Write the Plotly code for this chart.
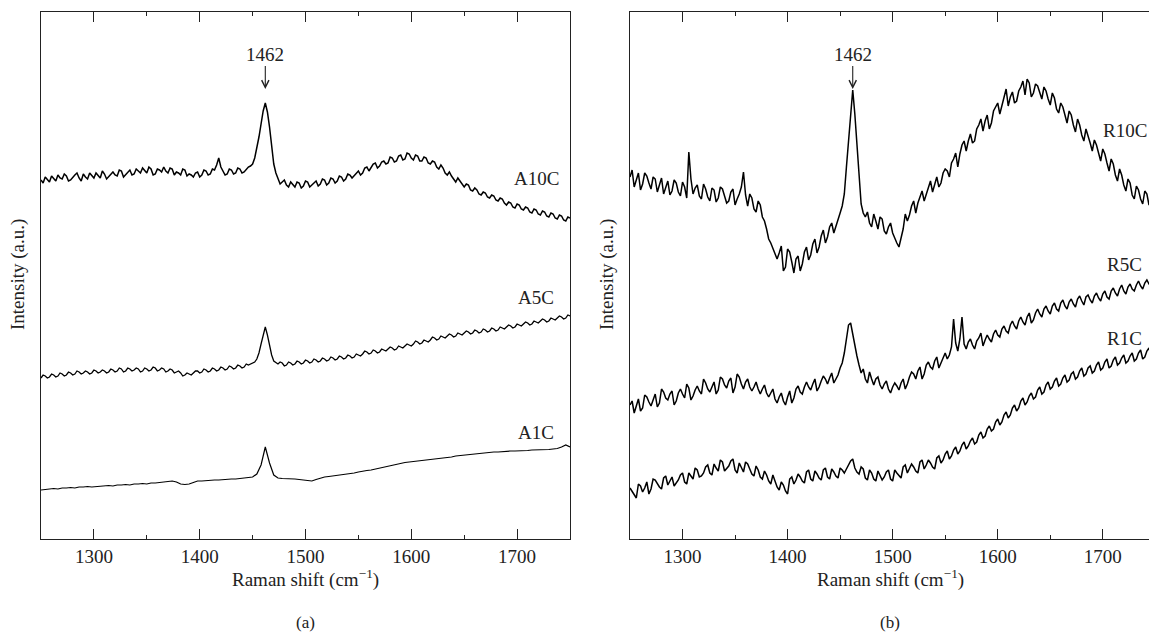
import plotly.graph_objects as go

# Raman shift sample positions (cm^-1): main grid and the in-between samples
raman_shift = list(range(1250, 1751, 4))
raman_shift_half = list(range(1252, 1750, 4))

# Panel (a) intensities (a.u., offset stacked)
A10C = [359,362,357,361,364,360,363,359,364,361,365,360,363,366,361,365,362,367,363,368,
        364,369,365,368,371,366,370,365,369,372,366,370,367,364,369,365,362,367,364,368,
        365,369,381,368,365,369,366,370,367,372,375,390,415,436,412,375,361,357,354,357,
        352,356,353,357,354,358,355,359,356,360,358,362,360,364,363,368,366,372,371,376,
        373,378,376,381,378,384,380,385,379,383,378,381,375,377,370,371,364,363,357,358,
        352,354,348,349,344,346,341,343,338,340,334,336,331,334,329,331,326,329,324,327,
        322,325,320,323,318,321]
A10C_half = [356,360,363,358,361,365,358,362,366,358,362,366,361,363,368,360,365,364,369,362,
             366,364,370,366,368,372,364,370,367,368,371,364,366,370,363,364,366,362,369,364,
             370,374,372,364,370,365,371,366,370,373,381,402,428,427,392,366,355,359,352,354,
             357,351,358,352,357,353,360,354,361,356,363,358,365,361,366,364,371,368,375,371,
             377,375,382,377,383,379,386,381,384,378,382,376,378,372,374,366,367,360,361,354,
             355,349,351,345,347,342,344,339,341,336,337,332,335,330,332,327,330,325,328,323,
             326,321,324,319,322]
A5C = [161,163,162,164,163,165,164,166,165,167,166,167,166,168,167,168,167,169,168,170,
       168,170,169,170,168,170,169,171,169,170,168,169,167,166,164,165,166,168,167,169,
       168,170,169,171,170,172,171,173,172,174,176,180,195,212,193,178,175,176,174,176,
       175,177,176,178,177,179,178,180,179,181,180,182,181,183,182,184,185,187,186,188,
       187,189,190,191,190,192,193,194,195,197,196,198,199,201,200,202,203,204,203,205,
       206,207,206,208,207,209,208,210,209,211,212,213,212,214,215,216,215,217,218,219,
       218,220,221,222,221,223]
A5C_half = [164,161,165,162,166,163,167,164,168,165,168,165,169,166,169,166,170,167,171,167,
            171,168,171,167,171,168,172,168,171,167,170,166,168,163,166,164,168,166,170,167,
            171,168,172,169,173,170,174,171,175,175,177,186,205,204,184,176,177,173,177,174,
            178,175,179,176,180,177,181,178,182,179,183,180,184,181,185,183,188,185,189,186,
            190,188,192,189,193,191,195,193,198,195,199,197,202,199,203,201,205,202,206,204,
            208,205,209,206,210,207,211,208,212,210,214,211,215,213,217,214,218,216,220,217,
            221,219,223,220,224]
A1C = [49,49.5,50,50.5,50,51,51,51.5,51,52,52,52.5,52,52.5,53,53,53.5,53,54,54,
       54.5,54,55,55,55.5,55,56,56,56.5,57,57.5,58,57,55,54.5,55,56.5,58,58,58.5,
       58.5,59,59,59.5,59.5,60,60,60.5,61,61,62,65,74,92,76,64,61,60.5,60.5,60,
       60,59.5,59,58,58,59.5,61,62,62.5,63,63.5,64,64.5,65.5,66,67,68,68.5,69,70,
       71,72,73,74,75,76,76.5,77,77.5,78,78.5,79,79,79.5,80,81,81.5,82,83,83.5,
       84,84.5,85,85.5,86,86,86.5,87,87,87.5,87.5,88,88,88,88.5,88.5,89,89,89,89.5,
       89.5,90,90.5,92,94,92]

# Panel (b) intensities
R10C = [362,352,366,355,363,350,360,354,345,358,348,356,343,352,387,345,354,340,350,338,
        349,341,350,336,347,334,345,367,333,341,327,334,318,300,290,280,293,272,287,266,
        283,275,292,284,300,292,309,302,316,312,326,345,400,449,392,335,322,316,325,310,
        320,305,316,300,292,310,318,333,326,343,338,352,347,362,356,370,362,380,372,394,
        388,405,398,414,408,424,416,432,425,440,433,447,438,452,444,456,446,453,440,448,
        434,441,426,432,416,424,407,414,398,404,388,394,378,385,368,375,358,364,348,356,
        340,349,335,345,338,344]
R10C_half = [369,360,349,366,356,362,347,361,352,344,359,347,357,341,360,351,343,355,342,351,
             337,352,343,338,350,340,352,344,345,330,338,322,310,296,285,286,268,290,277,280,
             268,287,279,295,286,303,296,312,306,320,333,372,430,425,360,326,327,312,318,322,
             308,312,306,296,302,325,324,338,336,348,344,358,355,352,366,368,376,386,385,398,
             398,396,410,420,418,410,428,436,433,450,442,436,448,458,460,442,455,446,452,440,
             446,430,436,424,428,414,420,404,410,396,399,385,390,376,380,364,370,354,360,344,
             353,340,348,334,347]
R5C = [134,126,140,131,142,133,145,136,147,139,148,138,150,141,151,143,153,145,156,147,
       157,149,160,151,161,152,162,150,160,148,157,145,154,142,150,136,146,134,148,141,
       153,145,157,149,160,152,163,155,166,160,171,186,214,204,183,166,160,167,154,162,
       150,158,146,156,149,160,155,167,160,172,165,177,170,182,176,186,184,220,188,222,
       190,200,190,201,193,204,197,209,202,213,206,218,210,222,214,226,219,230,222,233,
       225,236,228,239,230,240,232,243,234,244,236,246,238,248,240,251,243,254,245,255,
       248,258,250,259,253,258]
R5C_half = [138,132,128,144,137,139,132,150,141,145,134,146,145,155,139,149,148,160,150,152,
            145,162,154,158,146,165,155,157,152,152,150,150,146,146,140,142,138,142,136,150,
            147,152,152,155,148,158,160,161,156,164,176,200,216,196,174,170,156,160,160,154,
            155,150,152,153,156,150,162,165,168,160,174,172,178,171,182,180,192,196,200,195,
            197,194,198,206,199,200,205,204,210,208,214,213,218,217,222,216,226,225,230,228,
            233,230,236,233,237,235,240,238,242,239,243,241,245,242,248,246,250,248,252,250,
            254,253,256,255,262]
R1C = [51,44,55,47,57,50,59,52,61,54,62,56,64,57,66,60,69,63,72,66,
       75,68,77,70,78,69,76,67,75,65,73,62,68,58,64,52,57,48,60,55,
       65,58,67,60,68,61,69,62,70,63,71,66,74,80,67,72,61,69,60,68,
       59,67,60,69,63,72,66,75,68,77,70,79,72,81,76,85,80,89,85,94,
       90,98,95,104,101,110,108,117,114,124,121,131,128,138,134,143,140,149,145,154,
       150,158,153,161,157,165,160,168,163,171,166,174,169,177,171,179,174,181,176,183,
       178,186,180,188,183,189]
R1C_half = [48,41,53,51,45,60,55,50,63,58,53,59,66,55,63,71,62,66,74,64,
            71,79,68,73,80,66,71,77,70,63,69,60,64,55,58,49,54,45,62,59,
            62,56,69,58,65,59,71,60,67,61,69,70,78,71,65,70,59,66,58,64,
            62,69,58,66,61,74,70,72,66,79,74,76,70,83,79,88,83,92,88,97,
            93,101,97,107,103,113,110,120,117,127,124,134,131,141,137,146,142,152,147,157,
            152,161,155,164,159,167,162,171,165,173,168,177,171,180,173,182,176,184,178,186,
            180,189,182,191,185]

labels_a = ["A10C", "A5C", "A1C"]
labels_b = ["R10C", "R5C", "R1C"]
label_pos_a = [361, 242, 107]
label_pos_b = [409, 275, 201]
tick_vals = [1300, 1400, 1500, 1600, 1700]
peak_pos = 1462
peak_tip = 450

FONT = "Liberation Serif"
INK = "#222"
FS = 19


def merged(main, half):
    pts = list(zip(raman_shift[:len(main)], main)) + list(zip(raman_shift_half[:len(half)], half))
    pts.sort()
    return [p[0] for p in pts], [p[1] for p in pts]


fig = go.Figure()

series_a = [merged(A10C, A10C_half), merged(A5C, A5C_half), (raman_shift[:len(A1C)], A1C)]
series_b = [merged(R10C, R10C_half), merged(R5C, R5C_half), merged(R1C, R1C_half)]
for (xs, ys), w in zip(series_a, (1.5, 1.3, 1.2)):
    fig.add_trace(go.Scatter(x=xs, y=ys, mode="lines", line=dict(color="black", width=w),
                             xaxis="x", yaxis="y", showlegend=False, hoverinfo="skip"))
for xs, ys in series_b:
    fig.add_trace(go.Scatter(x=xs, y=ys, mode="lines", line=dict(color="black", width=1.5),
                             xaxis="x2", yaxis="y2", showlegend=False, hoverinfo="skip"))

ydom = [(636 - 539) / 636, (636 - 12) / 636]
xdom_a = [41 / 1149, 570 / 1149]
xdom_b = [630 / 1149, 1.0]


def xaxis(dom, rng, anchor):
    return dict(domain=dom, range=rng, anchor=anchor, showgrid=False, zeroline=False,
                showline=True, linecolor=INK, linewidth=1, mirror="ticks",
                ticks="inside", ticklen=10, tickwidth=1, tickcolor=INK,
                tickvals=tick_vals, tickfont=dict(family=FONT, size=FS, color=INK),
                minor=dict(dtick=50, ticks="inside", ticklen=4, tickcolor=INK, tickwidth=1),
                fixedrange=True)


def yaxis(anchor, mirror):
    return dict(domain=ydom, range=[0, 527], anchor=anchor, showgrid=False, zeroline=False,
                showline=True, linecolor=INK, linewidth=1, mirror=mirror,
                showticklabels=False, ticks="", fixedrange=True)


fig.update_layout(
    width=1149, height=636, margin=dict(l=0, r=0, t=0, b=0),
    paper_bgcolor="white", plot_bgcolor="white",
    xaxis=xaxis(xdom_a, [1250, 1750], "y"),
    yaxis=yaxis("x", True),
    xaxis2=xaxis(xdom_b, [1250, 1744], "y2"),
    yaxis2=yaxis("x2", False),
    font=dict(family=FONT, size=FS, color=INK),
)

ann = []
for lab, yv in zip(labels_a, label_pos_a):
    ann.append(dict(x=1718, y=yv, xref="x", yref="y", text=lab, showarrow=False,
                    xanchor="center", yanchor="middle",
                    font=dict(family=FONT, size=FS, color=INK)))
for lab, yv in zip(labels_b, label_pos_b):
    ann.append(dict(x=1721, y=yv, xref="x2", yref="y2", text=lab, showarrow=False,
                    xanchor="center", yanchor="middle",
                    font=dict(family=FONT, size=FS, color=INK)))
for xr, yr in (("x", "y"), ("x2", "y2")):
    ann.append(dict(x=peak_pos, y=peak_tip, xref=xr, yref=yr, text=str(peak_pos),
                    showarrow=True, arrowhead=5, arrowsize=1.3, arrowwidth=1.1,
                    arrowcolor=INK, ax=0, ay=-35, standoff=0,
                    font=dict(family=FONT, size=FS, color=INK)))

for cx, tag in ((305, "(a)"), (890, "(b)")):
    ann.append(dict(x=cx / 1149, y=1 - 578 / 636, xref="paper", yref="paper",
                    xanchor="center", yanchor="middle",
                    text="Raman shift (cm<sup>−1</sup>)", showarrow=False,
                    font=dict(family=FONT, size=FS, color=INK)))
    ann.append(dict(x=cx / 1149, y=1 - 622 / 636, xref="paper", yref="paper",
                    xanchor="center", yanchor="middle",
                    text=tag, showarrow=False, font=dict(family=FONT, size=17, color=INK)))
for cx in (18, 607):
    ann.append(dict(x=cx / 1149, y=1 - 275 / 636, xref="paper", yref="paper",
                    xanchor="center", yanchor="middle",
                    text="Intensity (a.u.)", textangle=-90, showarrow=False,
                    font=dict(family=FONT, size=FS, color=INK)))

fig.update_layout(annotations=ann)
fig.write_html("out.html", config={"displayModeBar": False},
               post_script="document.body.style.margin='0px';")
